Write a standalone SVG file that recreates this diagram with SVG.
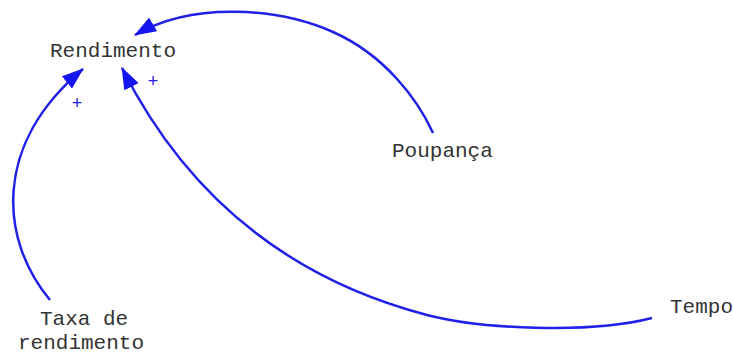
<svg xmlns="http://www.w3.org/2000/svg" width="733" height="356" viewBox="0 0 733 356">
<style>
.lbl{font-family:"Liberation Mono","DejaVu Sans Mono",monospace;font-size:21px;fill:#333}
.edge{fill:none;stroke:#2020e8;stroke-width:2.5}
.pol{font-family:"Liberation Sans",Arial,sans-serif;font-size:18px;fill:#2020e8;text-anchor:middle}
</style>
<defs>
<marker id="ah" viewBox="0 0 22 16" refX="21" refY="8" markerWidth="22" markerHeight="16" markerUnits="userSpaceOnUse" orient="auto">
<path d="M0,0 L22,8 L0,16 z" fill="#1515f0"/>
</marker>
</defs>
<rect width="733" height="356" fill="#fff"/>
<g id="connectors">
<path class="edge" d="M433,133 C418,100 385,55 333,32 S195,0 135,35" marker-end="url(#ah)"/>
<path class="edge" d="M50,300 C0,240 -8,145 83,69" marker-end="url(#ah)"/>
<path class="edge" d="M652,318 C590,334 480,329 427,315 C288,278.5 186.6,196 122,68" marker-end="url(#ah)"/>
<text class="pol" x="77" y="109">+</text>
<text class="pol" x="153" y="87">+</text>
</g>
<g id="rendimento"><text class="lbl" x="50" y="57">Rendimento</text></g>
<g id="poupanca"><text class="lbl" x="392" y="157">Poupança</text></g>
<g id="taxa"><text class="lbl" x="40" y="325">Taxa de</text><text class="lbl" x="18" y="349">rendimento</text></g>
<g id="tempo"><text class="lbl" x="670" y="313">Tempo</text></g>
</svg>
